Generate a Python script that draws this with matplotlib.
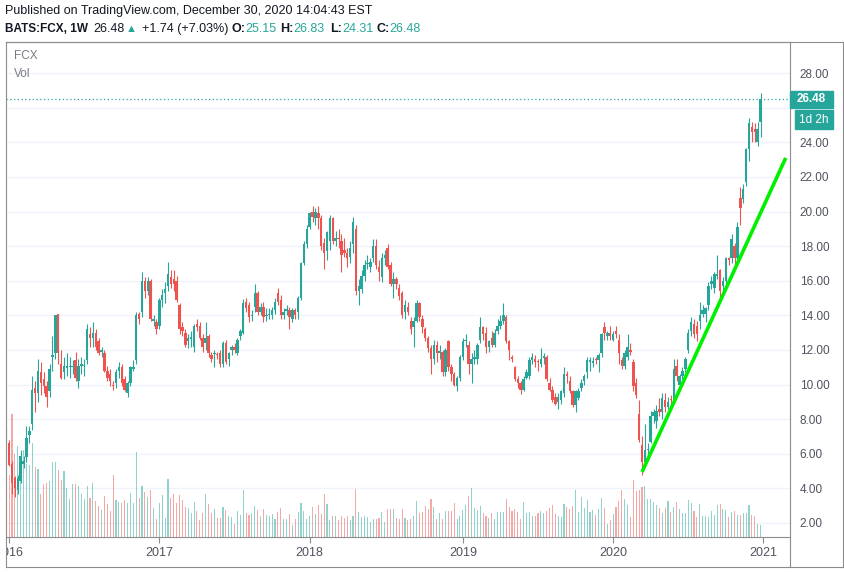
import numpy as np
import pandas as pd
import matplotlib
matplotlib.use("Agg")
import matplotlib.pyplot as plt
import matplotlib.transforms as mtransforms
from matplotlib.lines import Line2D
from matplotlib.patches import Rectangle

plt.rcParams['font.family'] = ['Liberation Sans', 'DejaVu Sans']

# weekly FCX candles, Dec 28 2015 .. Dec 28 2020
opens = [
    7.4, 6.6, 5.4, 4.6, 3.9, 4.4, 5.4, 5.8, 7.1, 7.7,
    9.8, 9.5, 10.7, 10.3, 9.9, 9.6, 11.6, 11.8, 14.1, 11.2,
    10.7, 10.95, 11.0, 11.0, 11.4, 10.2, 11.1, 11.05, 11.4, 12.9,
    12.7, 13.0, 12.5, 11.9, 11.8, 10.8, 10.6, 10.0, 10.1, 10.8,
    11.0, 10.3, 9.5, 10.1, 10.9, 11.4, 14.1, 14.2, 16.0, 15.4,
    16.0, 13.7, 13.6,
    13.4, 14.9, 15.3, 15.7, 16.2, 16.1, 16.0, 14.6, 13.3, 13.0,
    12.5, 12.65, 12.2, 13.5, 13.4, 12.7, 12.4, 12.8, 11.7, 11.75,
    11.75, 11.8, 11.2, 12.4, 11.5, 12.0, 12.2, 11.8, 12.8, 13.0,
    14.8, 14.6, 13.95, 14.5, 15.3, 14.2, 14.5, 13.95, 14.0, 14.0,
    14.3, 15.3, 14.9, 14.0, 14.25, 14.3, 13.8, 14.3, 14.2, 15.0,
    17.0, 18.1, 19.1,
    20.0, 19.6, 19.9, 19.6, 18.2, 17.7, 18.3, 19.6, 18.3, 18.45,
    18.3, 17.8, 17.6, 17.4, 18.1, 19.0, 15.4, 15.5, 16.3, 16.95,
    16.8, 17.3, 18.0, 16.8, 16.2, 17.3, 17.9, 16.9, 15.8, 16.1,
    15.6, 15.3, 14.2, 14.5, 13.7, 13.3, 13.7, 14.7, 13.8, 13.2,
    12.7, 12.1, 11.5, 12.3, 11.85, 11.9, 10.7, 12.5, 11.0, 10.6,
    9.9, 10.4,
    11.6, 12.5, 12.3, 11.2, 11.5, 11.5, 12.6, 13.3, 13.0, 12.2,
    12.7, 12.3, 13.1, 13.4, 13.7, 13.9, 12.5, 11.6, 11.0, 10.3,
    10.1, 9.7, 10.4, 10.5, 11.4, 11.5, 11.35, 11.2, 11.55, 11.6,
    10.1, 9.7, 9.3, 9.0, 9.1, 9.5, 10.6, 10.2, 9.6, 8.8,
    9.2, 9.8, 10.2, 10.7, 11.3, 11.25, 11.45, 11.4, 11.8, 13.3,
    12.8, 13.0, 12.6, 13.1,
    12.6, 11.4, 11.1, 11.6, 12.0, 11.3, 10.1, 8.3, 6.5, 5.5,
    6.2, 6.7, 8.2, 7.9, 8.6, 8.4, 9.1, 8.7, 9.15, 9.1,
    11.1, 10.0, 10.5, 10.9, 12.0, 13.1, 13.5, 13.4, 13.7, 14.1,
    14.1, 14.6, 15.8, 15.6, 16.3, 16.6, 15.7, 16.0, 17.3, 17.3,
    18.0, 17.3, 20.8, 20.7, 21.7, 23.6, 24.9, 24.8, 24.0, 25.15,
]
highs = [
    7.5, 6.8, 5.6, 4.7, 4.8, 6.2, 5.9, 7.6, 7.6, 10.5,
    10.2, 11.5, 11.3, 10.7, 10.2, 11.2, 12.8, 14.0, 14.1, 12.0,
    11.6, 11.8, 11.6, 11.4, 11.9, 11.5, 11.6, 11.5, 13.5, 13.3,
    13.6, 13.2, 12.7, 12.2, 12.0, 11.1, 10.9, 10.2, 10.9, 11.3,
    11.2, 10.5, 10.2, 11.1, 11.4, 14.2, 14.2, 16.5, 16.2, 16.2,
    16.1, 14.0, 13.8,
    15.0, 15.5, 15.9, 17.1, 16.6, 16.6, 16.3, 14.7, 13.6, 13.2,
    12.9, 13.1, 13.5, 13.8, 13.6, 12.9, 13.6, 12.9, 11.9, 12.0,
    11.9, 12.0, 12.5, 12.6, 11.9, 12.3, 12.4, 12.7, 13.2, 14.95,
    15.0, 14.8, 14.3, 15.8, 15.4, 14.7, 14.8, 14.4, 14.4, 14.5,
    15.0, 15.6, 15.2, 14.4, 14.6, 14.5, 14.4, 14.4, 15.1, 17.1,
    18.3, 19.2, 20.0,
    20.3, 20.2, 20.3, 19.8, 18.5, 18.9, 19.8, 19.7, 18.9, 19.0,
    18.7, 18.5, 17.9, 18.3, 19.7, 19.2, 16.1, 16.6, 17.2, 17.5,
    17.3, 18.4, 18.4, 17.2, 17.6, 17.8, 18.1, 17.1, 16.5, 16.2,
    15.8, 15.4, 14.9, 14.8, 13.9, 13.9, 14.9, 14.8, 14.0, 13.3,
    12.8, 12.3, 12.6, 12.5, 12.3, 12.0, 12.1, 12.6, 11.2, 10.7,
    10.5, 11.7,
    12.7, 12.9, 12.5, 11.8, 12.0, 12.4, 13.9, 13.4, 13.3, 12.6,
    13.1, 13.2, 13.8, 14.0, 14.7, 14.0, 12.6, 11.7, 11.1, 10.5,
    10.2, 10.5, 10.9, 11.6, 11.8, 11.7, 11.5, 12.1, 11.8, 11.7,
    10.4, 9.9, 9.5, 9.5, 9.7, 11.0, 10.8, 10.5, 9.7, 9.7,
    9.8, 10.3, 10.6, 11.6, 11.6, 11.6, 11.6, 11.8, 13.0, 13.6,
    13.1, 13.4, 13.1, 13.4,
    12.9, 11.6, 12.0, 12.9, 12.4, 11.5, 10.4, 9.1, 7.0, 7.7,
    6.6, 8.5, 8.6, 8.8, 9.2, 9.5, 9.5, 9.3, 9.4, 11.5,
    11.5, 10.6, 11.0, 11.6, 13.2, 13.9, 13.8, 13.7, 14.8, 14.6,
    14.5, 15.9, 16.3, 16.5, 17.5, 16.7, 16.2, 17.4, 17.4, 18.7,
    18.2, 19.4, 21.4, 21.6, 23.7, 25.4, 25.2, 25.1, 25.2, 26.83,
]
lows = [
    6.6, 5.3, 3.7, 3.5, 3.7, 4.3, 5.2, 5.5, 6.6, 7.4,
    8.4, 9.0, 9.4, 9.5, 8.7, 9.3, 10.8, 11.5, 11.2, 10.3,
    10.3, 10.5, 10.4, 10.6, 10.2, 9.8, 10.6, 10.5, 11.2, 12.2,
    12.2, 12.0, 11.7, 11.6, 10.7, 10.2, 9.9, 9.7, 9.8, 10.4,
    9.9, 9.6, 9.3, 9.9, 10.8, 11.2, 13.5, 13.9, 15.0, 15.2,
    13.7, 13.4, 12.9,
    13.2, 14.5, 14.7, 15.4, 15.6, 15.4, 14.8, 12.9, 12.8, 12.2,
    12.1, 12.2, 11.9, 13.1, 12.6, 11.9, 12.0, 11.6, 11.3, 11.0,
    11.5, 11.0, 11.0, 11.2, 11.1, 11.7, 11.8, 11.7, 12.6, 12.9,
    14.2, 13.6, 13.7, 14.2, 14.0, 14.0, 13.6, 13.7, 13.8, 13.8,
    14.1, 14.6, 13.8, 13.8, 14.0, 13.2, 13.6, 13.8, 13.8, 14.9,
    16.9, 17.9, 19.0,
    19.4, 19.2, 19.0, 17.8, 16.7, 17.2, 17.8, 18.1, 18.0, 17.9,
    16.5, 17.4, 16.8, 17.0, 17.6, 15.2, 14.6, 15.3, 16.0, 16.7,
    16.5, 17.1, 16.7, 16.0, 15.9, 16.9, 16.7, 15.7, 15.0, 15.5,
    14.9, 13.85, 13.8, 14.0, 12.9, 12.2, 13.6, 13.7, 13.0, 12.5,
    11.9, 10.6, 11.2, 11.3, 11.5, 10.5, 10.5, 10.8, 10.2, 9.9,
    9.6, 10.2,
    11.4, 12.2, 10.6, 10.1, 11.2, 11.2, 12.4, 12.6, 11.8, 11.9,
    12.2, 12.2, 12.9, 13.2, 13.5, 12.4, 11.4, 11.3, 10.2, 9.8,
    9.45, 9.6, 10.3, 10.3, 11.2, 11.0, 10.8, 11.0, 11.2, 10.2,
    9.6, 9.0, 8.8, 8.6, 8.9, 9.3, 10.1, 9.5, 8.7, 8.4,
    9.1, 9.6, 10.0, 10.4, 10.8, 11.0, 11.2, 10.7, 11.6, 12.6,
    12.6, 12.6, 12.5, 12.7,
    11.2, 10.9, 10.9, 11.4, 11.7, 9.6, 9.2, 6.7, 4.8, 5.3,
    5.6, 6.6, 7.8, 7.5, 8.2, 8.0, 8.4, 8.6, 8.8, 9.0,
    10.2, 9.8, 10.3, 10.7, 11.8, 12.8, 12.7, 12.5, 13.2, 13.9,
    13.6, 14.3, 15.5, 15.3, 16.1, 14.7, 15.2, 15.8, 16.9, 17.0,
    16.8, 17.1, 19.2, 20.5, 21.5, 22.9, 24.0, 24.0, 23.8, 24.31,
]
closes = [
    6.8, 5.35, 4.3, 4.0, 4.6, 5.9, 5.6, 6.9, 7.3, 9.7,
    9.5, 10.8, 10.1, 9.9, 9.3, 10.9, 11.7, 14.0, 11.8, 10.4,
    11.1, 11.05, 11.1, 11.05, 10.4, 11.1, 11.2, 11.1, 13.2, 12.7,
    13.0, 12.2, 11.8, 12.0, 10.8, 10.4, 10.2, 9.9, 10.7, 11.0,
    10.1, 9.7, 10.1, 11.0, 11.0, 14.0, 13.8, 16.0, 15.4, 16.0,
    13.8, 13.8, 13.2,
    14.9, 15.2, 15.5, 16.4, 15.8, 15.8, 14.9, 13.2, 13.1, 12.3,
    12.7, 12.75, 13.4, 13.3, 12.7, 12.2, 12.7, 11.8, 11.5, 11.8,
    11.7, 11.2, 12.4, 11.3, 11.8, 12.2, 12.0, 12.6, 13.1, 14.7,
    14.4, 13.9, 14.05, 15.3, 14.2, 14.5, 13.9, 14.05, 14.05, 14.3,
    14.8, 14.8, 14.0, 14.2, 14.35, 13.9, 14.3, 14.0, 15.0, 17.0,
    18.1, 19.0, 19.9,
    19.7, 20.0, 19.6, 18.0, 17.6, 18.8, 19.6, 18.3, 18.5, 18.4,
    17.5, 17.6, 17.3, 17.9, 19.4, 15.4, 15.7, 16.3, 16.9, 17.05,
    17.1, 18.0, 16.9, 16.5, 17.3, 17.5, 16.8, 15.8, 16.1, 15.8,
    15.1, 14.0, 14.6, 14.2, 13.2, 13.7, 14.7, 13.9, 13.3, 12.7,
    12.1, 11.5, 12.3, 11.8, 11.95, 10.7, 12.0, 11.0, 10.6, 10.0,
    10.4, 11.6,
    12.5, 12.6, 11.2, 11.5, 11.6, 12.3, 13.3, 12.9, 12.2, 12.5,
    12.3, 13.0, 13.4, 13.7, 14.0, 12.5, 12.0, 11.5, 10.3, 10.1,
    9.7, 10.3, 10.7, 11.4, 11.6, 11.3, 11.3, 11.5, 11.65, 10.3,
    9.7, 9.1, 8.9, 9.3, 9.6, 10.6, 10.5, 9.6, 8.8, 9.6,
    9.6, 10.1, 10.5, 11.4, 11.4, 11.35, 11.4, 11.7, 12.9, 13.0,
    13.0, 12.8, 12.9, 12.9,
    11.8, 11.1, 11.8, 12.2, 11.9, 9.9, 9.4, 6.8, 5.5, 6.2,
    6.3, 8.2, 8.4, 8.5, 8.4, 9.2, 8.7, 9.0, 9.1, 10.9,
    10.5, 10.5, 10.8, 11.5, 13.0, 13.6, 12.9, 12.9, 14.0, 14.3,
    14.4, 15.7, 16.0, 16.4, 16.4, 15.4, 16.0, 17.3, 17.2, 18.4,
    17.3, 19.1, 20.2, 21.3, 23.6, 25.1, 24.6, 24.6, 24.8, 26.48,
]
volume = [
    34, 62, 123, 83, 91, 81, 87, 73, 72, 94, 70, 68, 43, 53, 54, 56, 75, 75,
    67, 57, 66, 49, 38, 53, 53, 51, 43, 38, 51, 39, 54, 36, 31, 27, 41, 33,
    26, 62, 37, 35, 34, 37, 34, 44, 34, 85, 39, 51, 45, 40, 47, 29, 18, 34,
    42, 19, 58, 39, 43, 34, 42, 37, 30, 29, 24, 35, 26, 17, 24, 43, 33, 24,
    28, 19, 19, 30, 27, 21, 20, 13, 26, 22, 47, 24, 22, 24, 31, 27, 21, 28,
    22, 21, 23, 18, 25, 29, 18, 18, 23, 12, 18, 25, 34, 26, 18, 21, 30,
    23, 32, 23, 43, 33, 17, 21, 21, 17, 21, 19, 21, 17, 21, 48, 25, 20, 21,
    20, 15, 18, 18, 19, 25, 15, 28, 28, 28, 19, 18, 28, 19, 17, 18, 21, 36,
    24, 25, 31, 28, 38, 30, 18, 24, 18, 26, 26, 26, 34, 18, 21, 27,
    32, 41, 49, 29, 27, 31, 24, 21, 19, 24, 18, 25, 25, 25, 38, 30, 26, 28,
    25, 18, 35, 24, 25, 21, 21, 24, 26, 24, 26, 29, 32, 23, 21, 20, 33, 30,
    28, 31, 47, 25, 40, 29, 37, 25, 27, 22, 28, 39, 29, 13, 17, 23, 30, 36,
    47, 38, 32, 20, 57, 46, 47, 50, 51, 38, 38, 35, 32, 29, 24, 29, 36, 25,
    30, 35, 28, 24, 24, 37, 34, 26, 20, 33, 21, 21, 20, 26, 22, 32, 33, 28,
    27, 20, 25, 26, 22, 22, 24, 24, 32, 22, 21, 13, 12,
]
years = [2016, 2017, 2018, 2019, 2020, 2021]
price_ticks = list(range(2, 29, 2))
trend_dates = ['2020-03-16', '2021-02-27']
trend_prices = [4.95, 23.1]
last_price = 26.48

UP, DOWN = '#26a69a', '#ef5350'
TXT, GREY = '#131722', '#50535e'

opens, highs, lows, closes = map(np.array, (opens, highs, lows, closes))
n = len(closes)
dates = pd.date_range('2015-12-28', periods=n, freq='W-MON')
x = np.arange(n)
up = closes >= opens
col = np.where(up, UP, DOWN)

# tradingview puts the year label on the first weekly bar of that year
def bar_index(d):
    return (pd.Timestamp(d) - dates[0]).days / 7
tick_idx = [np.ceil(bar_index(f'{y}-01-01')) for y in years]

W, H = 845, 572
fx = lambda px: px / W
fy = lambda py: 1 - py / H
L, R, T, B, BOT, RR = 5.7, 790, 42, 537, 567, 843.5

fig = plt.figure(figsize=(8.45, 5.72), dpi=100)
ax = fig.add_axes([fx(L), fy(B), fx(R) - fx(L), fy(T) - fy(B)])
axv = ax.twinx()
ax.set_zorder(axv.get_zorder() + 1)
ax.patch.set_visible(False)

xlim = (-0.17, 271.2)
ylim = (1.19, 29.80)
ax.set_xlim(*xlim)
ax.set_ylim(*ylim)

# grid behind the volume bars
gtr = mtransforms.blended_transform_factory(axv.transAxes, ax.transData)
for p in price_ticks:
    axv.plot([0, 1], [p, p], color='#f0f3fa', lw=1, transform=gtr, zorder=0)

axv.bar(x, volume, width=0.38, color=col, alpha=0.5, linewidth=0, zorder=1)
axv.set_ylim(0, B - T)
axv.set_yticks([])
for s in axv.spines.values():
    s.set_visible(False)

ax.vlines(x, lows, highs, colors=col, lw=0.8)
body_lo = np.minimum(opens, closes)
body_h = np.maximum(np.abs(closes - opens), 0.07)
ax.bar(x, body_h, bottom=body_lo, width=0.85, color=col, linewidth=0)

tx = [bar_index(d) for d in trend_dates]
ax.plot(tx, trend_prices, color='#00f000', lw=2.6, solid_capstyle='butt')

ax.axhline(last_price, color=UP, lw=0.9, ls=(0, (1, 2)))

# the 26.00 label sits under the last-price tag, so it is not shown
ax.yaxis.tick_right()
ax.set_yticks(price_ticks)
ax.set_yticklabels(['' if p == 26 else f'{p:.2f}' for p in price_ticks])
ax.tick_params(axis='y', length=0, pad=7, labelsize=8.5, labelcolor=GREY)
ax.set_xticks(tick_idx)
ax.set_xticklabels([])
ax.tick_params(axis='x', length=4, width=0.8, color='#8c8c8c', direction='out')
for s in ax.spines.values():
    s.set_color('#8c8c8c')
    s.set_linewidth(0.8)

# date strip under the pane, labels clipped at its left edge
axd = fig.add_axes([fx(L), fy(BOT), fx(R) - fx(L), fy(B) - fy(BOT)])
axd.set_xlim(*xlim)
axd.set_ylim(0, 1)
axd.axis('off')
for i, y in zip(tick_idx, years):
    axd.text(i, 0.47, str(y), ha='center', va='center', fontsize=9,
             color=GREY, clip_on=True)

# outer frame
frame = dict(color='#8c8c8c', lw=0.8, transform=fig.transFigure)
fig.add_artist(Line2D([fx(L), fx(RR)], [fy(T), fy(T)], **frame))
fig.add_artist(Line2D([fx(L), fx(RR)], [fy(BOT), fy(BOT)], **frame))
fig.add_artist(Line2D([fx(L), fx(L)], [fy(B), fy(BOT)], **frame))
fig.add_artist(Line2D([fx(RR), fx(RR)], [fy(T), fy(BOT)], **frame))
fig.add_artist(Line2D([fx(R), fx(R)], [fy(B), fy(BOT)], **frame))

# price labels on the axis
ptr = mtransforms.blended_transform_factory(fig.transFigure, ax.transData)
px2p = (ylim[1] - ylim[0]) / (B - T)
ax.add_patch(Rectangle((fx(790), last_price - 8.5 * px2p), fx(833) - fx(790), 17 * px2p,
                       color=UP, transform=ptr, clip_on=False, zorder=5))
ax.text(fx(811.5), last_price, f'{last_price:.2f}', transform=ptr, ha='center',
        va='center', fontsize=8.5, color='white', weight='bold', clip_on=False, zorder=6)
ax.add_patch(Rectangle((fx(795), last_price - 29.5 * px2p), fx(833) - fx(795), 19 * px2p,
                       color=UP, transform=ptr, clip_on=False, zorder=5))
ax.text(fx(814), last_price - 20.5 * px2p, '1d 2h', transform=ptr, ha='center',
        va='center', fontsize=8.5, color='white', clip_on=False, zorder=6)

fig.text(fx(14), fy(56), 'FCX', fontsize=8.5, color='#787b86', va='center')
fig.text(fx(14), fy(74), 'Vol', fontsize=8.5, color='#787b86', va='center')

# header
fig.text(fx(5), fy(11), 'Published on TradingView.com, December 30, 2020 14:04:43 EST',
         fontsize=9, color=TXT, va='center')
hdr = [
    (5, 'BATS:FCX, 1W', TXT, 'bold', 8.5),
    (93, '26.48', TXT, 'normal', 9),
    (126, '▲', UP, 'normal', 8),
    (142, '+1.74 (+7.03%)', TXT, 'normal', 9),
    (232, 'O:', TXT, 'bold', 9), (245, '25.15', UP, 'normal', 9),
    (280, 'H:', TXT, 'bold', 9), (293, '26.83', UP, 'normal', 9),
    (330, 'L:', TXT, 'bold', 9), (342, '24.31', UP, 'normal', 9),
    (377, 'C:', TXT, 'bold', 9), (389, '26.48', UP, 'normal', 9),
]
for px_, s, c, w, fs in hdr:
    fig.text(fx(px_), fy(29), s, fontsize=fs, color=c, weight=w, va='center')

fig.savefig('out.png', dpi=100)
